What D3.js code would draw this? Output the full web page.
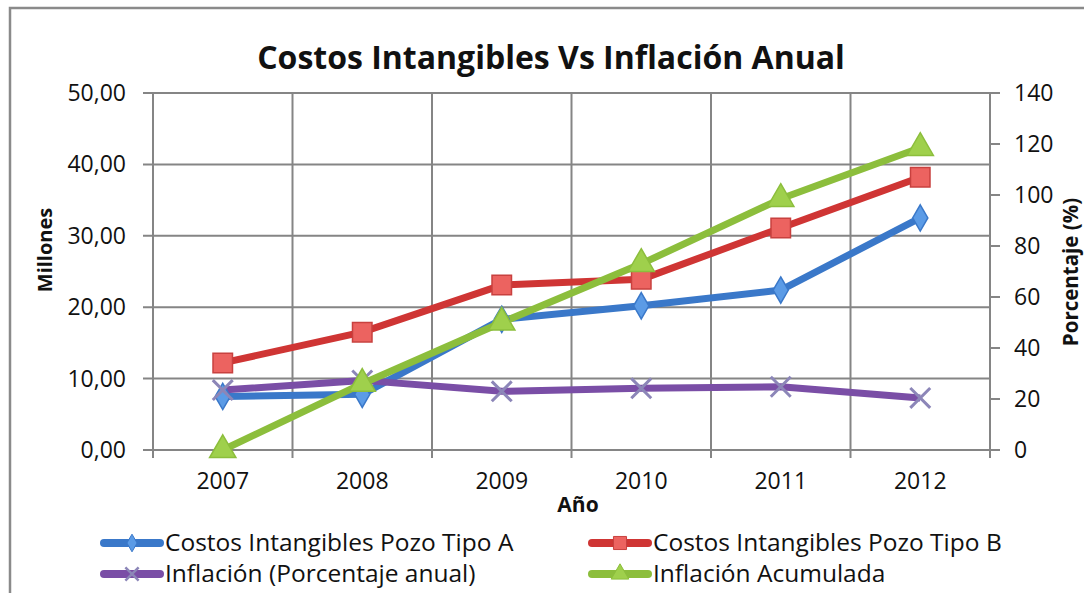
<!DOCTYPE html>
<html>
<head>
<meta charset="utf-8">
<script src="https://cdn.jsdelivr.net/npm/d3@7"></script>
<style>
  body { margin: 0; background: #fff; }
  text { font-family: "Open Sans", sans-serif; fill: #111; }
</style>
</head>
<body>
<svg id="chart" width="1084" height="593"></svg>
<script>
const years = ["2007", "2008", "2009", "2010", "2011", "2012"];
const costA = [7.5, 7.8, 18.3, 20.2, 22.4, 32.5];
const costB = [12.2, 16.5, 23.1, 23.9, 31.1, 38.2];
const inflAnual = [23.5, 27.3, 23.0, 24.2, 24.8, 20.4];
const inflAcum = [0, 26, 50, 73, 98.5, 118.5];
const leftTicks = [0, 10, 20, 30, 40, 50];
const rightTicks = [0, 20, 40, 60, 80, 100, 120, 140];

const svg = d3.select("svg#chart");
const plot = { left: 153, right: 990, top: 93, bottom: 450 };
const gridColor = "#858585";

const x = d3.scaleBand().domain(years).range([plot.left, plot.right]);
const yL = d3.scaleLinear().domain([0, 50]).range([plot.bottom, plot.top]);
const yR = d3.scaleLinear().domain([0, 140]).range([plot.bottom, plot.top]);
const fmt = d3.format(".2f");

// outer frame
svg.append("rect")
    .attr("x", 10).attr("y", 8)
    .attr("width", 1100).attr("height", 620)
    .attr("fill", "#fff")
    .attr("stroke", "#8a8a8a")
    .attr("stroke-width", 2.5);

// title
svg.append("text")
    .text("Costos Intangibles Vs Inflación Anual")
    .attr("x", 551).attr("y", 69)
    .attr("text-anchor", "middle")
    .style("font-size", "32px")
    .style("font-weight", "bold");

// horizontal grid (left axis)
svg.append("g")
    .selectAll("line")
    .data(leftTicks)
    .join("line")
    .attr("x1", plot.left - 10).attr("x2", plot.right)
    .attr("y1", (d) => yL(d)).attr("y2", (d) => yL(d))
    .attr("stroke", gridColor).attr("stroke-width", 2);

// vertical grid at category boundaries
const bounds = years.map((d) => x(d)).concat([plot.right]);
svg.append("g")
    .selectAll("line")
    .data(bounds)
    .join("line")
    .attr("x1", (d) => d).attr("x2", (d) => d)
    .attr("y1", plot.top).attr("y2", plot.bottom + 8)
    .attr("stroke", gridColor).attr("stroke-width", 2);

// right axis ticks
svg.append("g")
    .selectAll("line")
    .data(rightTicks)
    .join("line")
    .attr("x1", plot.right).attr("x2", plot.right + 10)
    .attr("y1", (d) => yR(d)).attr("y2", (d) => yR(d))
    .attr("stroke", gridColor).attr("stroke-width", 2);

// left tick labels
svg.append("g")
    .selectAll("text")
    .data(leftTicks)
    .join("text")
    .attr("x", 126)
    .attr("y", (d) => yL(d) + 8)
    .attr("text-anchor", "end")
    .style("font-size", "23px")
    .text((d) => fmt(d).replace(".", ","));

// right tick labels
svg.append("g")
    .selectAll("text")
    .data(rightTicks)
    .join("text")
    .attr("x", 1014)
    .attr("y", (d) => yR(d) + 8)
    .style("font-size", "23px")
    .text((d) => d);

// x tick labels
svg.append("g")
    .selectAll("text")
    .data(years)
    .join("text")
    .attr("x", (d) => x(d) + x.bandwidth() / 2)
    .attr("y", 489)
    .attr("text-anchor", "middle")
    .style("font-size", "23px")
    .text((d) => d);

// axis titles
svg.append("text")
    .text("Año")
    .attr("x", 578).attr("y", 512)
    .attr("text-anchor", "middle")
    .style("font-size", "21px").style("font-weight", "bold");
svg.append("text")
    .text("Millones")
    .attr("transform", "translate(52, 250) rotate(-90)")
    .attr("text-anchor", "middle")
    .style("font-size", "20px").style("font-weight", "bold");
svg.append("text")
    .text("Porcentaje (%)")
    .attr("transform", "translate(1078, 272) rotate(-90)")
    .attr("text-anchor", "middle")
    .style("font-size", "20.5px").style("font-weight", "bold");

// series
const series = [
    { name: "Costos Intangibles Pozo Tipo A", values: costA, scale: yL,
      line: "#3a78c9", fill: "#5b9be6", stroke: "#3a78c9", symbol: d3.symbolDiamond, size: 200 },
    { name: "Costos Intangibles Pozo Tipo B", values: costB, scale: yL,
      line: "#cf3534", fill: "#ec6360", stroke: "#c8413f", symbol: d3.symbolSquare, size: 380 },
    { name: "Inflación (Porcentaje anual)", values: inflAnual, scale: yR,
      line: "#7a4ea6", fill: "none", stroke: "#8c86b8", symbol: d3.symbolTimes, size: 260 },
    { name: "Inflación Acumulada", values: inflAcum, scale: yR,
      line: "#8cbe3c", fill: "#9fd04c", stroke: "#8cbe3c", symbol: d3.symbolTriangle, size: 300 }
];

const cx = (i) => x(years[i]) + x.bandwidth() / 2;

series.forEach((s) => {
    const line = d3.line()
        .x((d, i) => cx(i))
        .y((d) => s.scale(d));
    svg.append("path")
        .datum(s.values)
        .attr("d", line)
        .attr("fill", "none")
        .attr("stroke", s.line)
        .attr("stroke-width", 7)
        .attr("stroke-linejoin", "round");
});

series.forEach((s) => {
    const sym = d3.symbol().type(s.symbol).size(s.size);
    svg.append("g")
        .selectAll("path")
        .data(s.values)
        .join("path")
        .attr("transform", (d, i) => "translate(" + cx(i) + "," + s.scale(d) + ")")
        .attr("d", sym)
        .attr("fill", s.fill)
        .attr("stroke", s.stroke)
        .attr("stroke-width", s.fill === "none" ? 3 : 1.5);
});

// legend
const legendPos = [
    { x: 100, y: 543 }, { x: 588, y: 543 },
    { x: 100, y: 574 }, { x: 588, y: 574 }
];
series.forEach((s, j) => {
    const p = legendPos[j];
    const g = svg.append("g").attr("transform", "translate(" + p.x + "," + p.y + ")");
    g.append("line")
        .attr("x1", 4).attr("x2", 60)
        .attr("y1", 0).attr("y2", 0)
        .attr("stroke", s.line).attr("stroke-width", 8)
        .attr("stroke-linecap", "round");
    g.append("path")
        .attr("transform", "translate(32,0)")
        .attr("d", d3.symbol().type(s.symbol).size(s.size * 0.45))
        .attr("fill", s.fill)
        .attr("stroke", s.stroke)
        .attr("stroke-width", s.fill === "none" ? 2.5 : 1);
    g.append("text")
        .text(s.name)
        .attr("x", 65).attr("y", 8)
        .style("font-size", "24.5px");
});
</script>
</body>
</html>
